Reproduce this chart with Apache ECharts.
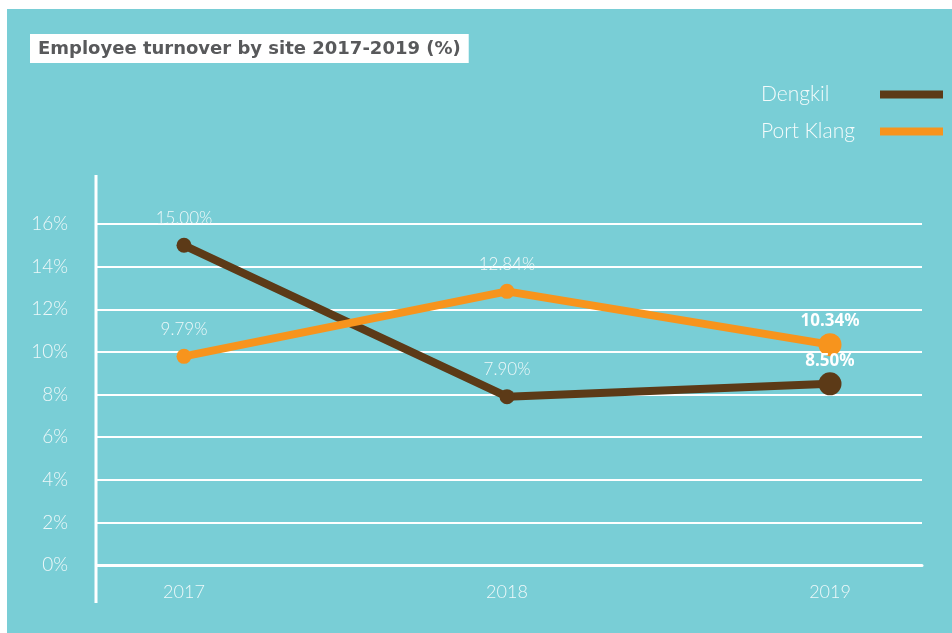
<!DOCTYPE html>
<html>
<head>
<meta charset="utf-8">
<script src="https://cdn.jsdelivr.net/npm/echarts@6/dist/echarts.min.js"></script>
<style>
  body { margin: 0; background: #fff; }
  #bg { position: absolute; left: 7px; top: 9px; width: 945px; height: 624px; background: #79ced6; }
  #chart { position: absolute; left: 0; top: 0; width: 952px; height: 633px; }
</style>
</head>
<body>
<div id="bg"></div>
<div id="chart"></div>
<script>
// 数据
const years = ['2017', '2018', '2019'];
const dengkil = [15.00, 7.90, 8.50];
const portKlang = [9.79, 12.84, 10.34];
const yTicks = [0, 2, 4, 6, 8, 10, 12, 14, 16];

const lightFont = 'Lato';
const labelColor = '#eef8f9';

// 最后一个点放大、加粗标签
function buildPoints(values) {
    return values.map(function(v, i) {
        const last = i === values.length - 1;
        return {
            value: [i, v],
            symbolSize: last ? 23 : 15,
            label: last ? {
                fontWeight: 'bold',
                fontSize: 17,
                fontFamily: 'Noto Sans',
                color: '#fff',
                distance: 3
            } : {}
        };
    });
}

function makeSeries(name, values, color) {
    return {
        name: name,
        type: 'line',
        data: buildPoints(values),
        symbol: 'circle',
        color: color,
        lineStyle: { width: 8, color: color },
        itemStyle: { color: color },
        label: {
            show: true,
            position: 'top',
            distance: 11,
            fontFamily: lightFont,
            fontWeight: 300,
            fontSize: 17,
            color: labelColor,
            formatter: function(p) { return p.value[1].toFixed(2) + '%'; }
        },
        emphasis: { disabled: true }
    };
}

const chart = echarts.init(document.getElementById('chart'));

const option = {
    animation: false,
    title: {
        text: 'Employee turnover by site 2017-2019 (%)',
        left: 30,
        top: 34,
        backgroundColor: '#fff',
        padding: [6, 8, 5, 8],
        textStyle: {
            fontFamily: 'DejaVu Sans',
            fontWeight: 'bold',
            fontSize: 18,
            color: '#58595b'
        }
    },
    legend: {
        orient: 'vertical',
        left: 761,
        top: 84,
        padding: 0,
        align: 'right',
        icon: 'rect',
        itemWidth: 63,
        itemHeight: 8,
        itemGap: 16,
        data: ['Dengkil', 'Port Klang'],
        formatter: '{n|{name}}',
        textStyle: {
            rich: {
                n: {
                    fontFamily: lightFont,
                    fontWeight: 300,
                    fontSize: 21,
                    color: '#f4fbfb',
                    width: 114,
                    align: 'left',
                    lineHeight: 21
                }
            }
        }
    },
    grid: {
        left: 97,
        right: 30,
        top: 224,
        bottom: 68
    },
    xAxis: {
        type: 'value',
        min: -0.2693,
        max: 2.2848,
        axisLine: { show: true, onZero: false, lineStyle: { color: '#fff', width: 3 } },
        axisTick: { show: false },
        splitLine: { show: false },
        axisLabel: {
            customValues: [0, 1, 2],
            margin: 18,
            fontFamily: lightFont,
            fontWeight: 300,
            fontSize: 18,
            color: labelColor,
            formatter: function(v) { return years[Math.round(v)]; }
        }
    },
    yAxis: {
        type: 'value',
        min: yTicks[0],
        max: yTicks[yTicks.length - 1],
        interval: 2,
        axisLine: { show: false },
        axisTick: { show: false },
        splitLine: { lineStyle: { color: '#fff', width: 2 } },
        axisLabel: {
            margin: 29,
            fontFamily: lightFont,
            fontWeight: 300,
            fontSize: 19,
            color: labelColor,
            formatter: '{value}%'
        }
    },
    graphic: [{
        type: 'line',
        shape: { x1: 96, y1: 175, x2: 96, y2: 603 },
        style: { stroke: '#fff', lineWidth: 3 },
        silent: true
    }],
    series: [
        makeSeries('Dengkil', dengkil, '#5c3a17'),
        makeSeries('Port Klang', portKlang, '#f7941d')
    ]
};

chart.setOption(option);

window.addEventListener('resize', function() {
    chart.resize();
});
</script>
</body>
</html>
